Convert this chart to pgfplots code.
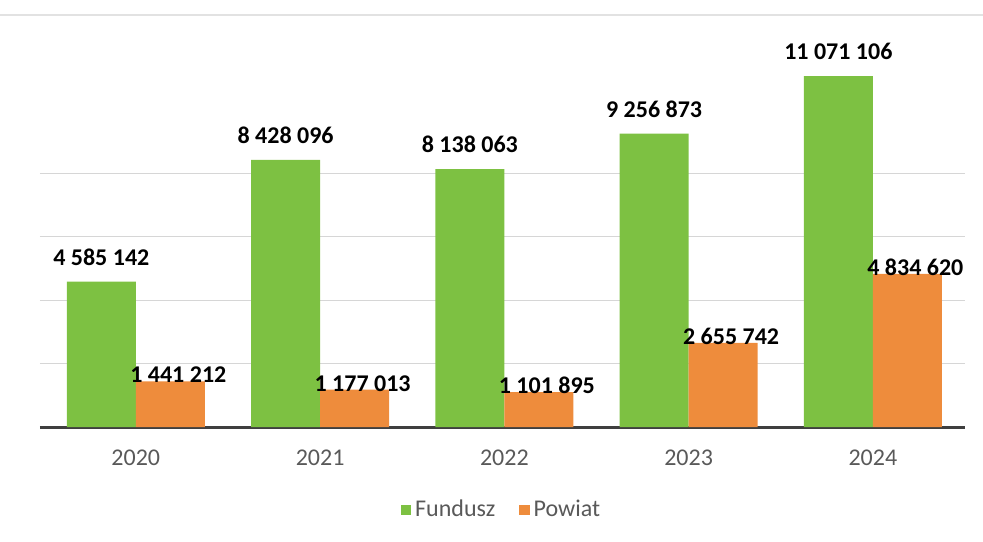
\documentclass[border=0pt]{standalone}
\usepackage{pgfplots}
\pgfplotsset{compat=1.18}
\usepackage{fontspec}
\setmainfont{Carlito}
\usepackage{xcolor}
\definecolor{FundGreen}{HTML}{7DC142}
\definecolor{PowOrange}{HTML}{EE8C3C}
\definecolor{AxisDark}{HTML}{3F3F3F}
\definecolor{GridGray}{HTML}{D6D6D6}
\definecolor{TextGray}{HTML}{595959}

\begin{document}
\begin{tikzpicture}
\begin{axis}[
  scale only axis,
  width=462.5pt, height=206pt,
  ybar=0pt,
  bar width=34.5pt,
  xmin=-0.52, xmax=4.5,
  ymin=0, ymax=13e6,
  xtick={0,1,2,3,4},
  xticklabels={2020,2021,2022,2023,2024},
  xticklabel style={font=\fontsize{12}{14}\selectfont, text=TextGray, yshift=-8pt},
  major tick length=0pt,
  ytick={2e6,4e6,6e6,8e6},
  yticklabels={},
  scaled y ticks=false,
  ymajorgrids=true,
  grid style={GridGray, line width=0.6pt},
  axis x line*=bottom,
  axis y line*=left,
  y axis line style={draw=none},
  x axis line style={AxisDark, line width=1.5pt, -},
  point meta=explicit symbolic,
  nodes near coords,
  nodes near coords style={font=\fontsize{12}{14}\selectfont\bfseries, text=black, inner sep=0pt, anchor=south},
  legend style={at={(0.5,0)}, anchor=center, yshift=-41.5pt, draw=none,
    font=\fontsize{12}{14}\selectfont, text=TextGray, legend columns=2,
    /tikz/every even column/.append style={column sep=10pt}},
  legend image code/.code={\fill[#1] (0pt,-2.6pt) rectangle (5.2pt,2.6pt);},
  clip=false,
]
\addplot[fill=FundGreen, draw=none, nodes near coords style={yshift=8pt}] coordinates {
  (0,4585142) [4 585 142]
  (1,8428096) [8 428 096]
  (2,8138063) [8 138 063]
  (3,9256873) [9 256 873]
  (4,11071106) [11 071 106]
};
\addplot[fill=PowOrange, draw=none, nodes near coords style={xshift=4pt, yshift=-1pt}] coordinates {
  (0,1441212) [1 441 212]
  (1,1177013) [1 177 013]
  (2,1101895) [1 101 895]
  (3,2655742) [2 655 742]
  (4,4834620) [4 834 620]
};
\legend{Fundusz, Powiat}
\draw[GridGray!70, line width=0.6pt] (rel axis cs:-0.05,1) -- (rel axis cs:1.02,1);
\coordinate (sw) at (rel axis cs:0,0);
\coordinate (ne) at (rel axis cs:1,1);
\end{axis}
\pgfresetboundingbox
\path[use as bounding box] ([xshift=-20pt, yshift=-57pt]sw) rectangle ([xshift=9pt, yshift=7.5pt]ne);
\end{tikzpicture}
\end{document}
